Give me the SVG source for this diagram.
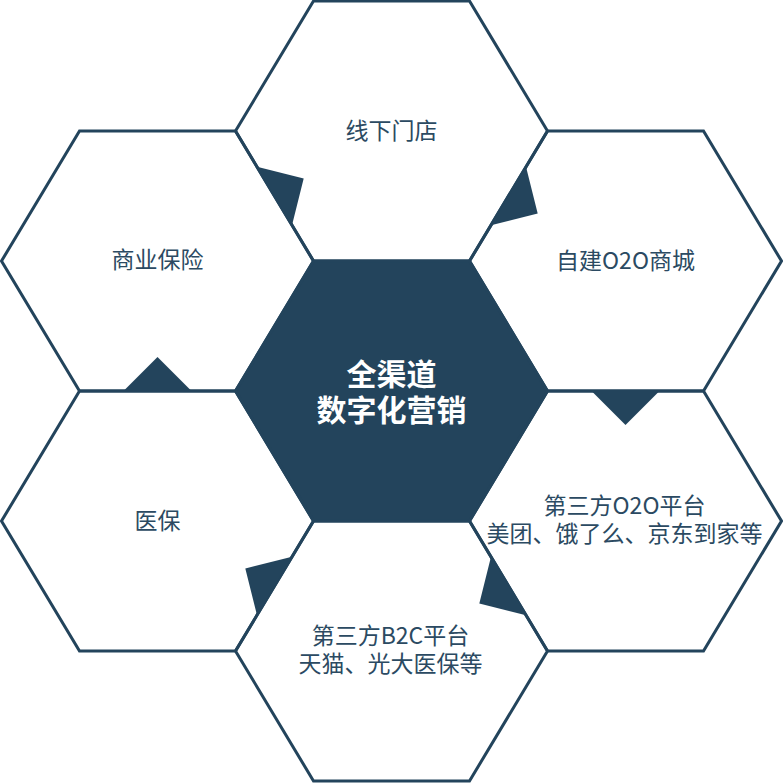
<svg xmlns="http://www.w3.org/2000/svg" width="783" height="783" viewBox="0 0 783 783">
<style>
.hex{fill:none;stroke:#23445c;stroke-width:3}
.core{fill:#23445c;stroke:#23445c;stroke-width:3}
.lbl{font-family:"Noto Sans CJK SC","Noto Sans",sans-serif;font-size:23px;fill:#2b4a62;text-anchor:middle;dominant-baseline:central}
.ctr{font-family:"Noto Sans CJK SC","Noto Sans",sans-serif;font-size:30px;font-weight:bold;fill:#ffffff;text-anchor:middle;dominant-baseline:central}
.tri{fill:#23445c}
</style>
<rect width="783" height="783" fill="#ffffff"/>
<g id="node-top">
<polygon class="hex" points="235.5,131 313.5,1 469.5,1 547.5,131 469.5,261 313.5,261"/>
<text class="lbl" x="391.5" y="129">线下门店</text>
</g>
<g id="node-upper-right">
<polygon class="hex" points="469.5,261 547.5,131 703.5,131 781.5,261 703.5,391 547.5,391"/>
<text class="lbl" x="625.5" y="259">自建O2O商城</text>
</g>
<g id="node-lower-right">
<polygon class="hex" points="469.5,521 547.5,391 703.5,391 781.5,521 703.5,651 547.5,651"/>
<text class="lbl"><tspan x="624.5" y="504">第三方O2O平台</tspan><tspan x="624.5" y="531.5">美团、饿了么、京东到家等</tspan></text>
</g>
<g id="node-bottom">
<polygon class="hex" points="235.5,651 313.5,521 469.5,521 547.5,651 469.5,781 313.5,781"/>
<text class="lbl"><tspan x="390.5" y="634">第三方B2C平台</tspan><tspan x="390.5" y="661.5">天猫、光大医保等</tspan></text>
</g>
<g id="node-lower-left">
<polygon class="hex" points="1.5,521 79.5,391 235.5,391 313.5,521 235.5,651 79.5,651"/>
<text class="lbl" x="157.5" y="519">医保</text>
</g>
<g id="node-upper-left">
<polygon class="hex" points="1.5,261 79.5,131 235.5,131 313.5,261 235.5,391 79.5,391"/>
<text class="lbl" x="157.5" y="258">商业保险</text>
</g>
<g id="node-center">
<polygon class="core" points="235.5,391 313.5,261 469.5,261 547.5,391 469.5,521 313.5,521"/>
<text class="ctr"><tspan x="391.5" y="372">全渠道</tspan><tspan x="391.5" y="408">数字化营销</tspan></text>
</g>
<g id="connectors">
<polygon class="tri" points="257,166.8 303.7,178.5 292,225.2"/>
<polygon class="tri" points="526,166.8 537.7,213.5 491,225.2"/>
<polygon class="tri" points="591.5,391 659.5,391 625.5,425"/>
<polygon class="tri" points="491,556.8 479.3,603.5 526,615.2"/>
<polygon class="tri" points="292,556.8 245.3,568.5 257,615.2"/>
<polygon class="tri" points="123.5,391 191.5,391 157.5,357"/>
</g>
</svg>
